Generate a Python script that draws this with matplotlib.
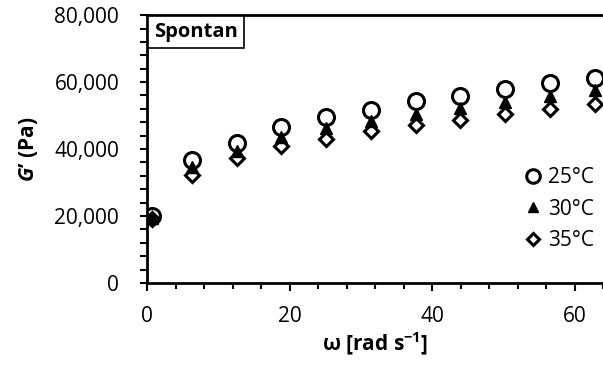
import matplotlib.pyplot as plt
from matplotlib.ticker import MultipleLocator, FuncFormatter

plt.rcParams['font.family'] = ['Open Sans', 'DejaVu Sans']
plt.rcParams['mathtext.fontset'] = 'custom'
plt.rcParams['mathtext.bfit'] = 'Open Sans:bold:italic'
plt.rcParams['mathtext.bf'] = 'Open Sans:bold'

# angular frequency (rad/s)
omega = [0.63, 6.28, 12.57, 18.85, 25.13, 31.42, 37.70, 43.98, 50.27, 56.55, 62.83]
# storage modulus G' (Pa)
g_25 = [20000, 36700, 41800, 46600, 49500, 51700, 54300, 55900, 57900, 59600, 61200]
g_30 = [19400, 34500, 39400, 43500, 46300, 48500, 50500, 52300, 54000, 55800, 57600]
g_35 = [19000, 32400, 37300, 40800, 43000, 45300, 47100, 48600, 50500, 52100, 53600]

fig = plt.figure(figsize=(6.03, 3.69), dpi=100)
ax = fig.add_axes([0.2438, 0.233, 0.7562, 0.726])

ax.plot(omega, g_25, 'o', ms=11.5, mfc='none', mec='black', mew=2.2, label='25°C', zorder=3)
ax.plot(omega, g_30, '^', ms=9, mfc='black', mec='black', mew=1, label='30°C', zorder=4)
ax.plot(omega, g_35, 'D', ms=7.5, mfc='none', mec='black', mew=2.2, label='35°C', zorder=2)

ax.set_xlim(0, 64)
ax.set_ylim(0, 80000)
ax.xaxis.set_major_locator(MultipleLocator(20))
ax.xaxis.set_minor_locator(MultipleLocator(4))
ax.yaxis.set_major_locator(MultipleLocator(20000))
ax.yaxis.set_minor_locator(MultipleLocator(4000))
ax.yaxis.set_major_formatter(FuncFormatter(lambda v, p: f'{v:,.0f}'))

for s in ['left', 'bottom', 'top']:
    ax.spines[s].set_linewidth(2)
ax.spines['right'].set_visible(False)
ax.tick_params(which='both', direction='out', width=1.5, labelsize=15)
ax.tick_params(which='major', length=5.5)
ax.tick_params(which='minor', length=4)
ax.tick_params(axis='y', which='both', length=5, pad=15)
ax.tick_params(axis='x', which='both', pad=11)

ax.set_xlabel(r'ω [rad s$^{\mathbf{-1}}$]', fontsize=15, fontweight='bold', labelpad=3)
ax.set_ylabel(r"$\mathbfit{G}$’ (Pa)", fontsize=15, fontweight='bold', labelpad=10)

ax.annotate('Spontan', xy=(0, 1), xycoords='axes fraction', xytext=(5, -5),
            textcoords='offset points', fontsize=14.5, fontweight='bold',
            va='top', ha='left',
            bbox=dict(boxstyle='square,pad=0.3', fc='white', ec='black', lw=1.2))

leg = ax.legend(loc='center left', bbox_to_anchor=(0.82, 0.276), frameon=False,
                fontsize=15, handletextpad=0.1, labelspacing=0.5, handlelength=1.2,
                borderaxespad=0, borderpad=0, markerscale=0.85)

fig.savefig('out.png', dpi=100)
